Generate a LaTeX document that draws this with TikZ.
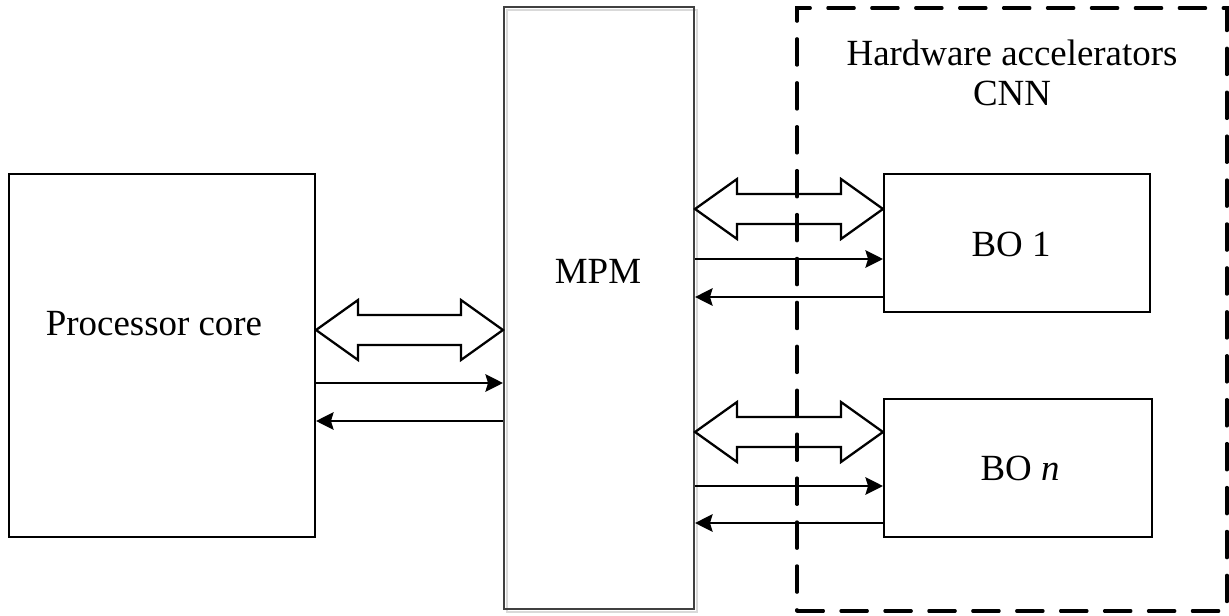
\documentclass[tikz,border=0pt]{standalone}
\usepackage{fontspec}
\setmainfont{Liberation Serif}
\usetikzlibrary{arrows.meta,positioning,calc}

\newcommand{\busarrow}[2]{%
  \draw[bus] (#1) -- ++(42,-30) -- ++(0,15) -- ($(#2)+(-42,-15)$)
    -- ++(0,-15) -- (#2) -- ++(-42,30) -- ++(0,-15)
    -- ($(#1)+(42,15)$) -- ++(0,15) -- cycle;}

\begin{document}
\begin{tikzpicture}[x=0.02cm, y=-0.02cm,
  blk/.style={draw, line width=1.2pt, inner sep=0pt},
  txt/.style={font=\fontsize{21}{23}\selectfont, align=center},
  arr/.style={-{Stealth[length=10pt, width=10pt, inset=1.5pt]}, line width=1.2pt},
  bus/.style={line width=1.3pt, line join=miter},
  grp/.style={draw, line width=1.8pt, dash pattern=on 15pt off 10pt,
              line cap=round, inner sep=0pt}]
\useasboundingbox (0,0) rectangle (1229,615);
\node[blk, minimum width=6.12cm, minimum height=7.26cm] (proc) at (162,355.5) {};
\node[txt] (proclbl) at (154,324) {Processor core};
\node[blk, draw=black!15, minimum width=3.8cm, minimum height=12.04cm]
  (mpmshade) at (602,311) {};
\node[blk, draw=black!75, minimum width=3.8cm, minimum height=12.04cm]
  (mpm) at (599,308) {};
\node[txt] (mpmlbl) at (598,271) {MPM};
\node[blk, minimum width=5.32cm, minimum height=2.76cm] (bo1) at (1017,243) {};
\node[txt] (bo1lbl) at (1011,244) {BO 1};
\node[blk, minimum width=5.36cm, minimum height=2.76cm] (bon) at (1018,468) {};
\node[txt] (bonlbl) at (1020,468) {BO \textit{n}};
\node[txt] (hwlbl) at (1012,73) {Hardware accelerators\\CNN};
\coordinate (r1) at (0,330);
\coordinate (r2) at (0,383);
\coordinate (r3) at (0,421);
\coordinate (s1) at (0,209);
\coordinate (s2) at (0,259);
\coordinate (s3) at (0,297);
\coordinate (t1) at (0,432);
\coordinate (t2) at (0,486);
\coordinate (t3) at (0,523);
\busarrow{proc.east |- r1}{mpm.west |- r1}
\draw[arr] (proc.east |- r2) -- (mpm.west |- r2);
\draw[arr] (mpm.west |- r3) -- (proc.east |- r3);
\busarrow{mpm.east |- s1}{bo1.west |- s1}
\draw[arr] (mpm.east |- s2) -- (bo1.west |- s2);
\draw[arr] (bo1.west |- s3) -- (mpm.east |- s3);
\busarrow{mpm.east |- t1}{bon.west |- t1}
\draw[arr] (mpm.east |- t2) -- (bon.west |- t2);
\draw[arr] (bon.west |- t3) -- (mpm.east |- t3);
\node[grp, minimum width=8.6cm, minimum height=12.06cm] (hw) at (1012,309.5) {};
\end{tikzpicture}
\end{document}
